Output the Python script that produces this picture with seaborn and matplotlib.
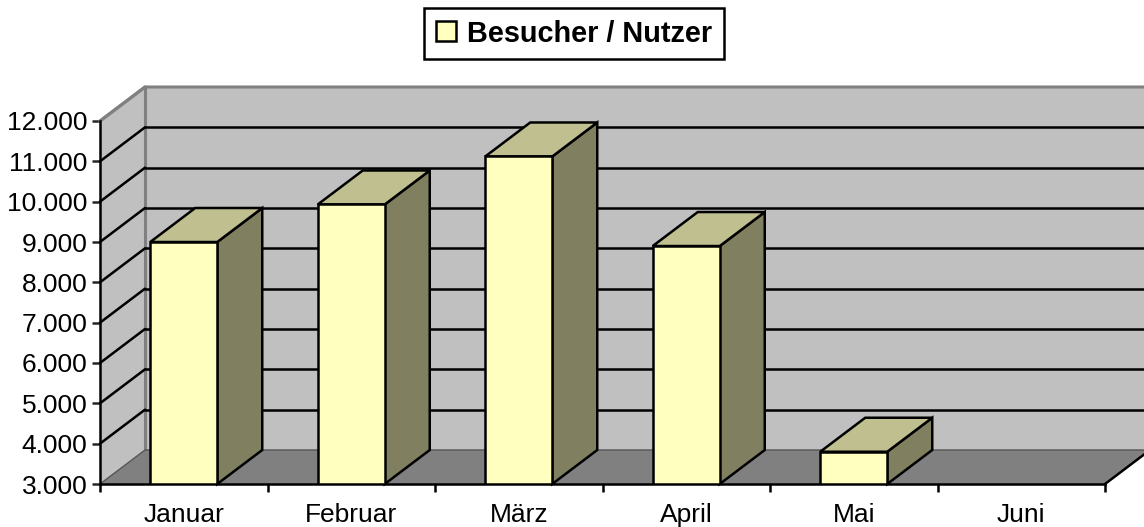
import numpy as np
import pandas as pd
import matplotlib
matplotlib.use("Agg")
import matplotlib.pyplot as plt
import seaborn as sns
from matplotlib.patches import Polygon

months = ["Januar", "Februar", "März", "April", "Mai", "Juni"]
visitors = [9000, 9930, 11120, 8900, 3800, np.nan]
y_ticks = [3000, 4000, 5000, 6000, 7000, 8000, 9000, 10000, 11000, 12000]
y_labels = ["3.000", "4.000", "5.000", "6.000", "7.000", "8.000", "9.000", "10.000", "11.000", "12.000"]
series_name = "Besucher / Nutzer"

# excel style colours
front_col = "#ffffc0"
top_col = "#bfbf90"
side_col = "#808060"
wall_col = "#c0c0c0"
floor_col = "#808080"
lw = 1.8

sns.set_style("white")
plt.rcParams["font.family"] = ["Liberation Sans", "DejaVu Sans"]

fig = plt.figure(figsize=(11.44, 5.27), dpi=100)
ax = fig.add_axes([100 / 1144, 43 / 527, 1005 / 1144, 363 / 527])
ax.patch.set_visible(False)

df = pd.DataFrame({"month": months, "visitors": visitors})
sns.barplot(data=df, x="month", y="visitors", ax=ax, width=0.4, color=front_col, saturation=1,
            edgecolor="black", linewidth=lw, label=series_name, zorder=5)

ymin, ymax = y_ticks[0], y_ticks[-1]
ax.set_xlim(-0.5, 5.5)
ax.set_ylim(ymin, ymax)

# depth of the fake 3d box in data units (45px, 34px)
dx = 45 / 167.5
dy = 34 / (363 / 9000)
x0, x1 = -0.5, 5.5

def poly(pts, fc, ec="none", lw=0, z=1):
    ax.add_patch(Polygon(pts, closed=True, facecolor=fc, edgecolor=ec, linewidth=lw, zorder=z,
                         clip_on=False, joinstyle="miter"))

# walls and floor
poly([(x0 + dx, ymin + dy), (x1 + dx, ymin + dy), (x1 + dx, ymax + dy), (x0 + dx, ymax + dy)], wall_col, z=1)
poly([(x0, ymin), (x0 + dx, ymin + dy), (x0 + dx, ymax + dy), (x0, ymax)], wall_col, z=1)
poly([(x0, ymin), (x1, ymin), (x1 + dx, ymin + dy), (x0 + dx, ymin + dy)], floor_col, z=1.5)

# wall edges
ax.plot([x0, x0 + dx, x1 + dx], [ymax, ymax + dy, ymax + dy], color=floor_col, lw=2.2, clip_on=False, zorder=2,
        solid_joinstyle="miter")
ax.plot([x0 + dx, x0 + dx], [ymin + dy, ymax + dy], color=floor_col, lw=2.2, clip_on=False, zorder=2)
ax.plot([x0, x0 + dx, x1 + dx], [ymin, ymin + dy, ymin + dy], color="#555555", lw=1, clip_on=False, zorder=2)
ax.plot([x1, x1 + dx], [ymin, ymin + dy], color="black", lw=lw, clip_on=False, zorder=2)

# gridlines, running back over the side wall
for t in y_ticks[1:]:
    if t < ymax:
        ax.plot([x0 + dx, x1 + dx], [t + dy, t + dy], color="black", lw=lw, clip_on=False, zorder=3)
        ax.plot([x0, x0 + dx], [t, t + dy], color="black", lw=lw, clip_on=False, zorder=3)
ax.plot([x0, x0 + dx], [ymax, ymax + dy], color=floor_col, lw=2.2, clip_on=False, zorder=3)

# side and top of the bars
for bar, v in zip(ax.containers[0], visitors):
    if np.isnan(v):
        continue
    left = bar.get_x()
    right = left + bar.get_width()
    poly([(right, ymin), (right + dx, ymin + dy), (right + dx, v + dy), (right, v)], side_col, "black", lw, 4)
    poly([(left, v), (right, v), (right + dx, v + dy), (left + dx, v + dy)], top_col, "black", lw, 4)

# axes
for s in ["top", "right"]:
    ax.spines[s].set_visible(False)
for s in ["left", "bottom"]:
    ax.spines[s].set_linewidth(lw)
    ax.spines[s].set_color("black")
    ax.spines[s].set_zorder(6)

ax.set_yticks(y_ticks)
ax.set_yticklabels(y_labels)
ax.set_xticks(np.arange(-0.5, 6, 1))
ax.set_xticklabels([])
ax.set_xticks(np.arange(6), months, minor=True)
ax.tick_params(axis="y", which="major", left=True, length=6, width=lw, pad=3, labelsize=19, labelcolor="black")
ax.tick_params(axis="x", which="major", bottom=True, length=6, width=lw, color="black")
ax.tick_params(axis="x", which="minor", bottom=False, length=0, pad=14, labelsize=19, labelcolor="black")
ax.set_xlabel("")
ax.set_ylabel("")

leg = ax.legend(loc="center", bbox_to_anchor=(574 / 1144, 1 - 33.5 / 527), bbox_transform=fig.transFigure,
                fancybox=False, framealpha=1, edgecolor="black", handlelength=0.69, handleheight=0.69,
                handletextpad=0.38, borderpad=0.4, borderaxespad=0, labelcolor="black",
                prop={"weight": "bold", "size": 20.8})
leg.get_frame().set_linewidth(lw)
leg.set_zorder(10)

fig.savefig("out.png", dpi=100)
